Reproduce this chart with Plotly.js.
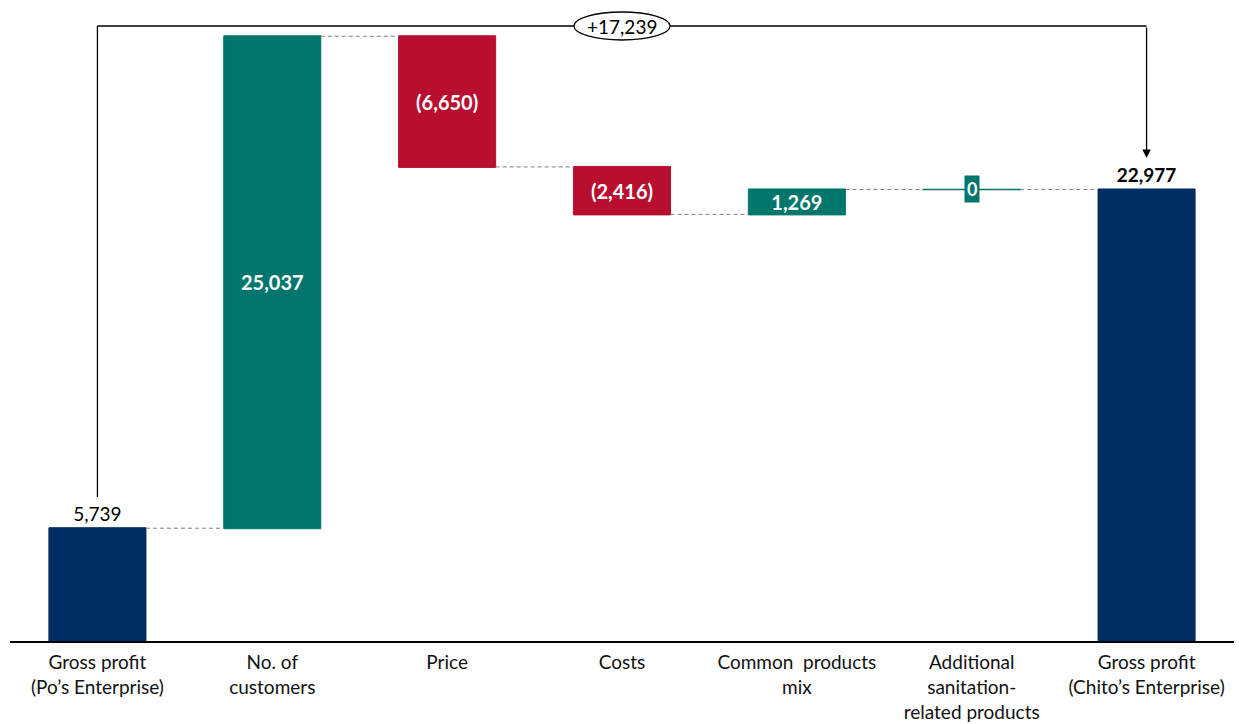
<!DOCTYPE html>
<html>
<head>
<meta charset="utf-8">
<script src="https://cdn.plot.ly/plotly-3.0.1.min.js"></script>
<style>html,body{margin:0;padding:0;background:#fff;}#chart{width:1239px;height:724px;}</style>
</head>
<body>
<div id="chart"></div>
<script>
// ---- data ----
const categories = [
  "Gross profit<br>(Po’s Enterprise)",
  "No. of<br>customers",
  "Price",
  "Costs",
  "Common  products<br>mix",
  "Additional<br>sanitation-<br>related products",
  "Gross profit<br>(Chito’s Enterprise)"
];
const measures = ["absolute","relative","relative","relative","relative","relative","absolute"];
const values = [5739, 25037, -6650, -2416, 1269, 0, 22977];
const totalChange = 17239;

// ---- styling ----
const NAVY = "rgb(0,45,98)", TEAL = "rgb(0,118,108)", RED = "rgb(184,14,48)";
const FONT = "Lato, 'Open Sans', sans-serif";

function fmt(v){
  const s = Math.abs(v).toLocaleString("en-US");
  return v < 0 ? "(" + s + ")" : s;
}
const boldIdx = [1,2,3,4,6];
const labels = values.map((v,i)=> boldIdx.includes(i) ? "<b>"+fmt(v)+"</b>" : fmt(v));
const textpos = ["outside","inside","inside","inside","inside","none","outside"];

// running level for the zero item
let lvl = 0; const levels = [];
values.forEach((v,i)=>{ lvl = measures[i]==="absolute" ? v : lvl + v; levels.push(lvl); });

const trace = {
  type: "waterfall",
  x: categories,
  y: values,
  measure: measures,
  text: labels,
  textposition: textpos,
  insidetextanchor: "middle",
  constraintext: "none",
  cliponaxis: false,
  insidetextfont: {family: FONT, size: 20, color: "#fff"},
  outsidetextfont: {family: FONT, size: 19, color: "#000"},
  textfont: {family: FONT, size: 19},
  increasing: {marker: {color: TEAL, line: {color: TEAL, width: 1}}},
  decreasing: {marker: {color: RED, line: {color: RED, width: 1}}},
  totals: {marker: {color: NAVY, line: {color: NAVY, width: 1}}},
  connector: {mode: "between", line: {color: "#7f7f7f", width: 1, dash: "4px,3px"}},
  hoverinfo: "skip"
};

const yTop = 32112;
const bracketY = 31298;
const layout = {
  width: 1239, height: 724,
  margin: {l: 9.5, r: 4.5, t: 10, b: 83},
  paper_bgcolor: "#fff", plot_bgcolor: "#fff",
  showlegend: false,
  waterfallgap: 0.445,
  font: {family: FONT, size: 19, color: "#000"},
  xaxis: {
    type: "category", range: [-0.5, 6.5],
    showline: true, linecolor: "#000", linewidth: 1.5,
    showgrid: false, zeroline: false, ticks: "",
    ticklabelstandoff: 4,
    tickfont: {family: FONT, size: 19, color: "#111"}
  },
  yaxis: {range: [0, yTop], visible: false, showgrid: false, zeroline: false},
  shapes: [
    {type: "line", xref: "x", yref: "y", x0: 0, x1: 0, y0: 7330, y1: bracketY, line: {color: "#000", width: 1.3}},
    {type: "line", xref: "x", yref: "y", x0: 0, x1: 6, y0: bracketY, y1: bracketY, line: {color: "#000", width: 1.3}},
    {type: "circle", xref: "x", yref: "y", x0: 2.725, x1: 3.275, y0: 30585, y1: 32010, fillcolor: "#fff", line: {color: "#000", width: 1.3}, layer: "above"},
    {type: "line", xref: "x", yref: "y", x0: 4.72, x1: 5.28, y0: levels[5], y1: levels[5], line: {color: TEAL, width: 1.5}}
  ],
  annotations: [
    {x: 3, y: bracketY, xref: "x", yref: "y", text: "+" + totalChange.toLocaleString("en-US"), showarrow: false, font: {family: FONT, size: 19, color: "#000"}},
    {x: 6, y: 24580, xref: "x", yref: "y", ax: 6, ay: bracketY, axref: "x", ayref: "y", text: "", showarrow: true, arrowhead: 2, arrowsize: 1.3, arrowwidth: 1.3, arrowcolor: "#000"},
    {x: 5, y: levels[5], xref: "x", yref: "y", text: "<b>" + fmt(values[5]) + "</b>", showarrow: false, bgcolor: TEAL, borderpad: 2, font: {family: FONT, size: 18, color: "#fff"}}
  ]
};

Plotly.newPlot("chart", [trace], layout, {displayModeBar: false, staticPlot: true});
</script>
</body>
</html>
